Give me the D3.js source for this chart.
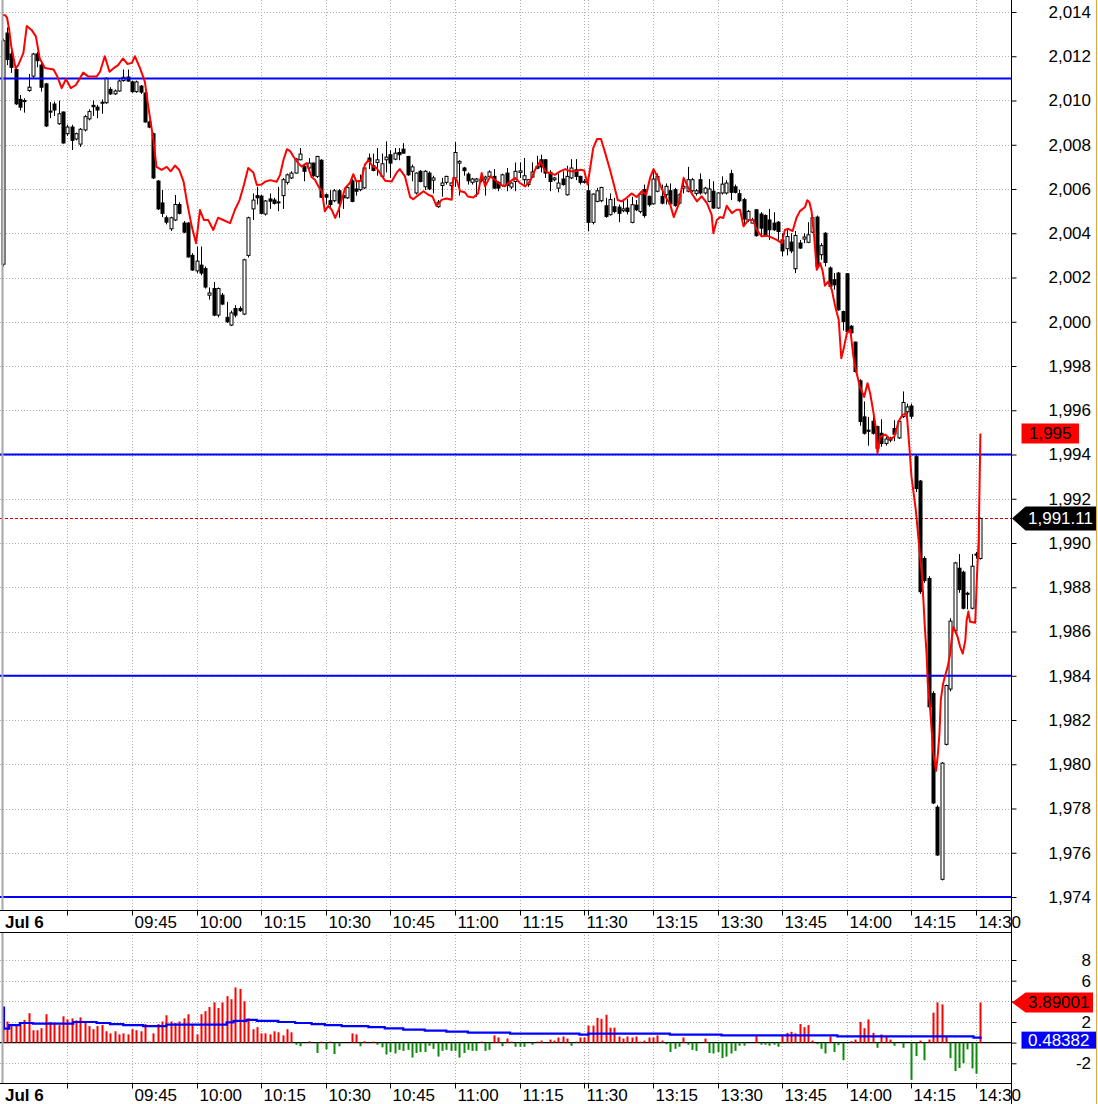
<!DOCTYPE html>
<html>
<head>
<meta charset="utf-8">
<script src="https://cdn.jsdelivr.net/npm/d3@7"></script>
<style>
  body { margin: 0; background: #fff; }
  svg { display: block; }
  text { font-family: "Liberation Sans", Arial, sans-serif; }
</style>
</head>
<body>
<script>
// one-minute candles, Jul 6: 09:15-11:30 then 13:00-14:31  [open, high, low, close]
const candles = [
  // 09:15
  [2002.6,2012.8,2002.5,2012.7],[2013.05,2013.3,2011.6,2011.85],[2012.1,2012.3,2011.25,2011.5],[2011.4,2011.5,2009.8,2009.85],
  [2010.05,2010.25,2009.55,2009.7],[2009.95,2010.1,2009.45,2010.0],[2010.45,2011.2,2010.4,2010.6],[2011.1,2012.15,2011.0,2012.1],
  [2012.1,2012.2,2011.5,2011.8],[2011.6,2011.7,2010.4,2010.6],[2010.75,2010.8,2008.8,2008.85],[2009.5,2009.93,2009.2,2009.52],
  [2009.84,2009.95,2009.3,2009.57],[2008.95,2010.0,2008.9,2009.4],[2009.48,2009.5,2008.05,2008.08],
  // 09:30
  [2008.5,2008.9,2008.4,2008.8],[2008.8,2008.9,2007.76,2008.2],[2008.26,2008.55,2008.2,2008.5],[2008.03,2008.75,2007.9,2008.7],
  [2008.67,2009.35,2008.6,2009.27],[2009.17,2009.6,2009.1,2009.5],[2009.78,2010.0,2009.3,2009.72],[2009.7,2009.8,2009.2,2009.57],
  [2009.88,2010.05,2009.4,2009.92],[2009.9,2011.05,2009.85,2011.0],[2010.5,2010.6,2010.25,2010.3],[2010.3,2010.5,2010.25,2010.43],
  [2010.43,2010.95,2010.4,2010.88],[2010.9,2011.4,2010.85,2011.05],[2011.06,2011.4,2010.85,2010.88],
  // 09:45
  [2010.84,2010.9,2010.35,2010.4],[2010.4,2010.9,2010.35,2010.84],[2010.65,2010.7,2010.3,2010.38],[2010.34,2010.4,2009.0,2009.03],
  [2009.03,2009.1,2008.75,2008.8],[2008.5,2008.55,2006.45,2006.5],[2006.36,2006.4,2005.05,2005.1],[2005.37,2005.95,2004.73,2004.9],
  [2004.7,2004.8,2004.4,2004.5],[2004.2,2004.75,2004.1,2004.7],[2004.6,2005.73,2004.55,2005.3],[2005.3,2005.4,2004.85,2004.9],
  [2004.46,2004.55,2004.0,2004.05],[2004.46,2004.5,2002.9,2002.93],[2003.0,2003.1,2002.3,2002.34],
  // 10:00
  [2002.3,2003.4,2002.2,2002.74],[2002.56,2003.4,2002.1,2002.2],[2002.4,2002.5,2001.5,2001.57],[2001.2,2001.55,2001.0,2001.3],
  [2001.5,2001.8,2000.25,2000.3],[2000.3,2001.55,2000.2,2001.5],[2001.2,2001.3,2000.75,2000.8],[2000.2,2000.9,1999.95,2000.0],
  [1999.85,2000.5,1999.8,2000.4],[2000.6,2000.75,2000.2,2000.3],[2000.6,2000.7,2000.45,2000.5],[2000.35,2002.85,2000.3,2002.8],
  [2003.0,2004.75,2002.9,2004.7],[2005.1,2005.8,2004.6,2005.5],[2005.7,2006.1,2005.3,2005.6],
  // 10:15
  [2005.68,2005.75,2004.85,2004.9],[2004.87,2005.5,2004.8,2005.46],[2005.55,2005.8,2005.1,2005.45],[2005.5,2005.6,2005.3,2005.35],
  [2005.4,2006.1,2005.0,2005.42],[2005.7,2006.5,2005.1,2006.42],[2006.3,2006.7,2006.2,2006.64],[2006.5,2006.8,2006.45,2006.72],
  [2006.72,2007.4,2006.7,2007.35],[2007.32,2007.85,2007.3,2007.58],[2007.02,2007.1,2006.35,2006.8],[2006.95,2007.4,2006.9,2007.17],
  [2007.17,2007.2,2006.55,2006.6],[2006.57,2007.5,2006.5,2007.47],[2007.3,2007.35,2005.6,2005.63],
  // 10:30
  [2005.74,2005.8,2005.3,2005.63],[2005.47,2005.95,2005.15,2005.3],[2005.47,2006.0,2005.4,2005.92],[2005.92,2006.0,2004.7,2005.36],
  [2005.7,2005.8,2005.1,2005.6],[2005.6,2006.15,2005.55,2006.07],[2006.37,2006.45,2005.4,2005.44],[2006.0,2006.4,2005.7,2005.9],
  [2005.97,2006.65,2005.9,2006.37],[2006.05,2007.0,2006.0,2006.95],[2007.4,2007.6,2006.9,2007.25],[2007.05,2007.6,2006.8,2006.84],
  [2007.2,2007.85,2006.6,2007.32],[2006.57,2007.6,2006.5,2007.14],[2007.32,2008.15,2006.75,2007.44],
  // 10:45
  [2007.55,2007.75,2006.5,2007.17],[2007.35,2007.85,2007.3,2007.62],[2007.65,2007.85,2007.3,2007.55],[2007.8,2008.07,2007.6,2007.62],
  [2007.47,2007.5,2006.6,2006.64],[2006.8,2007.1,2006.35,2007.0],[2005.82,2006.75,2005.75,2006.72],[2006.8,2006.85,2006.3,2006.34],
  [2006.1,2006.85,2005.95,2006.8],[2006.72,2006.8,2005.95,2006.0],[2006.4,2006.6,2005.8,2006.5],[2005.2,2005.5,2005.15,2005.4],
  [2006.16,2006.5,2005.65,2006.27],[2006.3,2006.6,2006.2,2006.57],[2006.15,2006.3,2005.65,2006.27],
  // 11:00
  [2006.5,2008.12,2006.1,2007.65],[2007.17,2007.3,2005.7,2007.25],[2006.95,2007.0,2006.6,2006.83],[2006.67,2006.75,2006.2,2006.37],
  [2006.3,2006.5,2006.2,2006.45],[2006.35,2006.5,2005.65,2006.45],[2006.45,2006.5,2006.3,2006.37],[2006.45,2006.6,2005.7,2006.54],
  [2006.57,2006.85,2006.5,2006.77],[2006.57,2006.9,2006.0,2006.04],[2006.3,2006.35,2005.9,2006.04],[2006.16,2006.7,2006.1,2006.64],
  [2006.72,2006.95,2005.9,2006.16],[2006.09,2006.3,2006.0,2006.27],[2006.34,2007.2,2005.9,2006.8],
  // 11:15
  [2006.75,2007.2,2006.5,2006.82],[2006.42,2007.4,2006.2,2006.6],[2006.2,2006.45,2006.1,2006.42],[2006.54,2007.2,2006.5,2006.77],
  [2007.02,2007.5,2006.9,2006.94],[2007.32,2007.55,2006.75,2007.0],[2007.32,2007.35,2006.5,2006.72],[2006.75,2006.85,2005.9,2006.34],
  [2006.42,2006.55,2006.35,2006.5],[2006.04,2006.7,2005.85,2006.27],[2006.45,2006.8,2006.15,2006.2],[2005.74,2007.05,2005.7,2006.57],
  [2006.5,2007.35,2006.45,2006.95],[2006.87,2007.35,2006.4,2006.57],[2006.57,2006.6,2006.2,2006.3],
  // 11:30
  [2006.3,2006.45,2006.25,2006.35],
  // 13:00
  [2005.92,2006.4,2004.1,2004.49],[2004.49,2005.8,2004.4,2005.77],[2005.44,2006.05,2005.4,2005.92],[2005.47,2006.1,2005.4,2006.07],
  [2005.24,2005.6,2004.7,2004.76],[2004.84,2005.8,2004.8,2005.52],[2005.2,2005.6,2004.9,2004.98],[2005.18,2005.3,2004.5,2004.9],
  [2005.02,2005.5,2004.95,2005.1],[2005.14,2005.55,2004.85,2004.98],[2004.49,2005.65,2004.45,2005.29],[2005.27,2005.5,2005.0,2005.06],
  [2004.98,2005.85,2004.9,2005.77],[2005.97,2006.2,2004.7,2004.8],[2005.67,2005.7,2005.2,2005.29],
  // 13:15
  [2005.33,2006.9,2005.3,2006.45],[2005.9,2006.7,2005.85,2006.57],[2005.67,2006.2,2005.3,2005.36],[2005.74,2006.25,2005.3,2006.12],
  [2005.92,2006.25,2005.3,2005.33],[2005.97,2006.05,2005.2,2005.25],[2005.36,2005.8,2005.3,2005.74],[2006.04,2006.55,2005.8,2006.12],
  [2005.9,2007.0,2005.85,2006.42],[2005.92,2006.5,2005.85,2006.42],[2005.8,2006.0,2005.7,2005.92],[2006.42,2006.7,2005.75,2005.82],
  [2005.82,2006.1,2005.75,2006.04],[2005.44,2006.45,2005.4,2006.0],[2005.9,2006.35,2005.1,2005.14],
  // 13:30
  [2005.14,2005.85,2005.1,2005.82],[2005.82,2006.57,2005.75,2006.22],[2005.82,2006.4,2005.75,2006.27],[2006.69,2006.87,2005.5,2005.85],
  [2006.1,2006.2,2005.8,2005.85],[2005.79,2005.97,2005.4,2005.47],[2005.52,2005.6,2004.4,2004.64],[2004.58,2005.05,2004.5,2004.99],
  [2004.46,2004.7,2004.45,2004.61],[2005.06,2005.1,2003.85,2003.89],[2004.87,2004.95,2003.85,2004.23],[2004.8,2004.85,2003.9,2003.93],
  [2004.6,2005.1,2003.7,2004.16],[2004.46,2004.95,2004.1,2004.16],[2004.5,2004.55,2003.7,2004.08],
  // 13:45
  [2003.7,2004.0,2002.95,2003.2],[2003.3,2004.2,2003.0,2003.85],[2003.6,2004.0,2003.1,2003.2],[2002.4,2004.1,2002.2,2003.9],
  [2003.56,2003.7,2003.3,2003.33],[2003.74,2004.0,2003.55,2003.83],[2003.59,2004.5,2003.55,2003.93],[2004.05,2004.75,2004.0,2004.7],
  [2004.73,2004.8,2002.45,2002.5],[2003.03,2003.55,2002.8,2003.44],[2004.0,2004.05,2002.5,2002.68],[2002.43,2002.5,2001.55,2001.6],
  [2001.9,2002.2,2001.45,2001.67],[2002.2,2002.25,2000.5,2000.54],[2000.46,2000.5,1999.6,2000.0],
  // 14:00
  [2002.17,2002.2,1999.5,1999.56],[1999.8,1999.85,1999.45,1999.5],[1999.08,1999.1,1997.7,1997.75],[1997.33,1997.4,1995.3,1995.49],
  [1995.7,1996.4,1994.9,1994.96],[1995.1,1995.7,1994.4,1995.05],[1995.5,1995.75,1994.9,1994.96],[1995.26,1995.3,1994.2,1994.28],
  [1994.96,1995.6,1994.35,1994.5],[1994.5,1994.8,1994.4,1994.7],[1994.7,1994.8,1994.55,1994.65],[1995.17,1995.55,1994.6,1994.92],
  [1994.75,1995.55,1994.7,1995.5],[1995.71,1996.85,1995.65,1996.35],[1995.93,1996.3,1995.8,1996.15],
  // 14:15
  [1996.19,1996.3,1995.6,1995.73],[1993.9,1994.0,1992.3,1992.46],[1992.8,1992.85,1987.7,1987.8],[1989.3,1989.4,1988.2,1988.3],
  [1988.4,1988.5,1982.5,1982.6],[1983.2,1983.3,1978.2,1978.25],[1978.06,1978.15,1975.85,1975.9],[1974.8,1980.1,1974.75,1980.05],
  [1980.9,1983.6,1980.85,1983.56],[1983.4,1986.6,1983.3,1986.47],[1986.03,1989.15,1985.9,1989.1],[1988.86,1989.5,1987.75,1987.9],
  [1988.68,1988.75,1987.0,1987.05],[1987.73,1987.8,1987.0,1987.68],[1987.05,1989.5,1987.0,1988.95],
  // 14:30
  [1989.5,1989.6,1989.3,1989.45],[1989.3,1991.15,1989.25,1991.11]
];

// red overlay line: [bar index, price]
const redLine = [
  [0,2013.86],[0.6,2013.85],[1,2013.75],[1.5,2013.2],[2,2012.43],[3,2011.45],[3.6,2011.6],[4.8,2012.14],[5.6,2013.37],
  [6.7,2013.19],[7.7,2012.9],[8.6,2011.9],[9.8,2011.47],[11.8,2011.4],[12.7,2011.08],[13.7,2010.56],[14.7,2010.97],
  [15.8,2010.56],[17,2010.7],[18.7,2011.26],[19.9,2011.08],[21.8,2011.08],[22.6,2011.3],[23.7,2012.0],[24.8,2011.3],
  [25.7,2011.45],[26.8,2011.6],[27.9,2011.9],[29,2011.65],[30,2011.7],[30.7,2012.0],[31.9,2011.45],[33,2010.85],
  [33.8,2009.72],[35,2008.2],[35.7,2007.0],[36.9,2006.86],[38.1,2007.0],[39,2006.8],[40,2007.06],[41,2006.86],
  [42,2006.33],[42.7,2005.5],[43.9,2004.3],[44.9,2003.55],[45.8,2005.05],[46.7,2004.6],[47.7,2004.6],[48.9,2004.15],
  [50,2004.7],[51.2,2004.6],[52.8,2004.46],[53.9,2005.05],[55,2005.5],[56,2006.18],[57,2006.95],[58.2,2006.75],
  [59,2006.18],[60.1,2006.2],[60.9,2006.33],[62.1,2006.4],[63.6,2006.33],[64.4,2006.64],[65.2,2007.32],[66,2007.8],
  [66.8,2007.7],[67.5,2007.47],[68.6,2007.17],[69.4,2007.02],[70.6,2007.17],[71.7,2006.54],[72.5,2006.42],[73.3,2006.12],
  [74.1,2005.9],[74.8,2004.99],[75.6,2005.24],[76.4,2005.06],[77.2,2004.69],[78,2005.06],[78.7,2005.51],[79.5,2006.04],
  [80.6,2006.27],[81.4,2006.67],[82.1,2006.34],[83.2,2006.37],[84.1,2007.1],[84.9,2007.3],[85.9,2007.02],[86.8,2006.95],
  [87.6,2006.72],[88.8,2006.37],[90.3,2006.34],[91.5,2006.75],[92.2,2006.9],[93.4,2006.57],[94.6,2005.63],[95.3,2005.54],
  [96.1,2005.66],[96.9,2005.78],[97.7,2005.9],[98.8,2005.74],[99.8,2005.66],[100.7,2005.24],[101.9,2005.51],[103,2005.57],
  [104.25,2005.51],[104.6,2006.5],[105.4,2006.42],[106.2,2005.9],[107.3,2005.85],[108,2005.66],[109.3,2005.62],
  [110.4,2005.81],[111.2,2006.72],[112,2006.12],[113.2,2006.57],[114.3,2006.42],[115.5,2006.2],[116.6,2006.12],
  [117.8,2006.34],[119,2006.5],[120.1,2006.27],[121.3,2006.12],[122.4,2006.34],[123.6,2006.87],[124.8,2007.25],
  [126,2006.8],[127,2006.72],[128.2,2006.64],[129.4,2006.8],[130.6,2006.9],[131.8,2006.8],[132.9,2006.8],[134.1,2006.87],
  [135,2006.84],[135.8,2006.2],[136.4,2006.95],[137.1,2007.85],[138,2008.26],[138.9,2008.26],[139.9,2007.62],[141,2006.87],
  [142,2006.12],[142.8,2005.5],[143.7,2005.44],[144.9,2005.6],[146,2005.8],[147.2,2005.64],[148.4,2005.9],[149.4,2005.74],
  [150.3,2006.5],[151.1,2006.9],[151.8,2006.64],[152.8,2006.12],[153.8,2005.67],[155,2005.29],[155.8,2004.73],
  [156.9,2005.29],[158.1,2006.5],[159.2,2006.04],[160.4,2005.67],[161.2,2005.44],[162.3,2005.67],[163.5,2005.36],
  [164.6,2004.84],[165,2004.0],[165.8,2004.6],[166.6,2004.73],[167.3,2004.69],[168.1,2005.24],[169.3,2004.91],
  [170.4,2005.06],[171.2,2005.06],[172,2004.31],[173.1,2004.6],[174.3,2004.6],[175,2004.16],[176.2,2003.86],
  [177.4,2003.89],[178.6,2003.8],[179.7,2003.7],[180.9,2003.55],[181.6,2004.15],[182.4,2004.2],[183.4,2004.1],
  [184.3,2004.7],[185.1,2005.0],[186.3,2005.19],[186.8,2005.49],[187.3,2005.4],[187.8,2004.99],[188.4,2003.86],
  [189,2002.35],[189.8,2002.65],[190.4,2002.27],[190.9,2001.63],[191.7,2001.82],[192.5,2001.44],[193.3,2000.69],
  [194.1,2000.09],[194.7,1998.35],[195.2,1998.73],[196,1999.48],[196.8,1999.64],[197.5,1998.43],[198.1,1997.82],
  [199,1997.07],[200,1996.6],[200.8,1997.22],[201.4,1996.77],[202.2,1995.86],[202.8,1995.11],[203.1,1994.06],
  [203.7,1994.8],[204.9,1994.9],[206,1994.7],[207,1994.8],[208,1995.49],[208.9,1995.79],[209.9,1995.86],[210.5,1994.36],
  [211,1993.0],[212,1991.5],[212.9,1989.6],[213.4,1988.6],[213.8,1987.3],[214.1,1986.2],[214.5,1985.0],[214.8,1983.6],
  [215.3,1982.6],[215.7,1981.5],[216.1,1980.45],[216.7,1979.7],[217.1,1980.4],[217.5,1981.4],[217.8,1982.9],
  [218.3,1983.6],[218.8,1984.0],[219.4,1984.4],[220,1985.0],[220.3,1985.6],[220.7,1986.2],[221.1,1986.06],
  [221.7,1985.76],[222.3,1985.3],[222.9,1985.0],[223.5,1985.6],[223.8,1986.5],[224.2,1986.9],[224.6,1986.44],
  [225.8,1986.4],[226.2,1988.5],[226.6,1990.15],[227,1994.95]
];

// lower panel histogram, one value per bar
const hist = [
  1.36,2.04,1.6,1.7,2.0,2.2,2.85,1.2,1.2,1.4,2.75,2.0,1.95,1.7,2.55,
  2.25,2.35,2.15,2.45,2.05,1.6,1.3,1.6,1.7,1.1,0.9,1.1,0.8,0.9,0.8,
  1.3,1.2,1.1,1.8,0.1,0.9,1.8,2.05,2.65,2.05,1.9,2.05,2.35,2.75,1.8,
  0.8,2.75,3.05,3.45,3.9,3.35,3.9,4.5,4.2,5.35,5.2,4.0,2.35,1.3,1.5,
  0.9,0.9,0.8,1.1,1.0,0.7,1.3,1.0,-0.2,-0.35,0,0.13,0,-1.0,0.1,
  -0.65,0.1,-1.1,-0.35,0,0,0.9,0.8,-0.35,0.13,0,0.1,-0.2,-0.45,-1.15,
  -0.9,-1.05,-0.7,-0.8,-0.7,-1.45,-1.0,-0.9,-0.9,-0.3,-0.6,-1.35,-0.8,-0.7,-0.8,
  -0.8,-1.45,-1.0,-0.7,-0.8,-0.8,0.1,-0.8,-0.7,0.7,0.5,-0.35,0.4,0.1,-0.4,
  -0.4,-0.4,0,-0.2,0.1,0.2,0,0.3,0.2,0.5,0.6,0.4,-0.3,0.1,0.5,
  0.5,1.65,1.65,2.4,2.3,2.7,1.45,1.45,0.6,0.4,0.6,0.5,0.6,0.1,0.2,
  0.5,0.5,0.7,0.2,-0.15,-0.9,-0.6,-0.4,0.5,-0.2,-0.7,-0.8,0,0.4,-1.0,
  -1.05,-0.9,-1.5,-1.35,-1.05,-0.8,-0.3,-0.3,0,0,0.65,-0.2,-0.2,-0.3,-0.2,
  -0.4,0.65,0.95,1.05,0.9,1.8,1.5,1.7,0.2,-0.15,-0.6,-1.05,0.6,-0.9,-0.25,
  -1.7,0,0.15,0.3,2.0,1.4,2.25,0.95,-0.5,0.8,0.65,0.3,-0.3,0,-0.5,
  0,-3.6,-1.3,0.2,-1.7,0.3,2.9,3.9,3.7,0.6,-1.5,-2.75,-2.45,-2.0,-0.65,
  -2.5,-3.0,3.89001
];

// lower panel blue signal line, stepped: [bar index, value]
const signal = [
  [0,3.4],[0.3,1.36],[1.5,1.7],[4,1.9],[7,1.85],[16.4,2.0],[21.8,1.9],[24.9,1.8],[28,1.7],[32.6,1.6],
  [38,1.75],[52,1.97],[53.6,2.1],[56.6,2.2],[59,2.1],[64,2.0],[67.9,1.9],[71.7,1.8],[74.8,1.7],[78.7,1.6],
  [84.9,1.5],[88.7,1.38],[93,1.26],[98,1.17],[103,1.07],[108,0.97],[117.8,0.87],[133.9,0.78],[136,0.87],
  [154.9,0.78],[166.9,0.7],[193.8,0.6],[225.4,0.48382],[227.3,0.48382]
];

const levels = [2011, 1994, 1984, 1974];
const priceTicks = d3.range(1974, 2015, 2);
const lowTicks = [8, 6, 4, 2, 0, -2];
const lowLabels = ["8", "6", "", "2", "", "-2"];   // 4 and 0 sit under the value tags
const timeIdx = [15, 30, 45, 60, 75, 90, 105, 120, 135, 136, 151, 166, 181, 196, 211, 226];
const timeLabels = ["", "09:45", "10:00", "10:15", "10:30", "10:45", "11:00", "11:15", "11:30", "", "13:15", "13:30", "13:45", "14:00", "14:15", "14:30"];
const lastPrice = 1991.11;

const width = 1098, height = 1104;
const axisX = 1011.5;
const mainBottom = 910, bandBottom = 932, lowBottom = 1083;
const font = "17px";

const svg = d3.select("body").append("svg")
  .attr("width", width).attr("height", height)
  .attr("viewBox", [0, 0, width, height]);

svg.append("rect").attr("width", width).attr("height", height).attr("fill", "#fff");

// scales
const x = d3.scaleLinear().domain([0, 227]).range([2.7, 980.4]);
const y = d3.scaleLinear().domain([1974, 2014]).range([897, 12]);
const yl = d3.scaleLinear().domain([-2, 8]).range([1063.3, 960]);
const px = i => Math.round(x(i)) + 0.5;

const defs = svg.append("defs");
defs.append("clipPath").attr("id", "clipMain")
  .append("rect").attr("x", 0).attr("y", 0).attr("width", axisX).attr("height", mainBottom);
defs.append("clipPath").attr("id", "clipLow")
  .append("rect").attr("x", 0).attr("y", bandBottom).attr("width", axisX).attr("height", lowBottom - bandBottom);

const gMain = svg.append("g").attr("clip-path", "url(#clipMain)");
const gLow = svg.append("g").attr("clip-path", "url(#clipLow)");

// gridlines
const gridColor = "#b0b0b0";
gMain.selectAll(".hgrid").data(priceTicks).join("line")
  .attr("x1", 0).attr("x2", axisX)
  .attr("y1", d => Math.round(y(d)) + 0.5).attr("y2", d => Math.round(y(d)) + 0.5)
  .attr("stroke", gridColor).attr("stroke-dasharray", "1,2");
gMain.selectAll(".vgrid").data(timeIdx).join("line")
  .attr("x1", d => px(d)).attr("x2", d => px(d))
  .attr("y1", 0).attr("y2", mainBottom)
  .attr("stroke", gridColor).attr("stroke-dasharray", "1,2");
gLow.selectAll(".hgrid").data(lowTicks.filter(d => d !== 0)).join("line")
  .attr("x1", 0).attr("x2", axisX)
  .attr("y1", d => Math.round(yl(d)) + 0.5).attr("y2", d => Math.round(yl(d)) + 0.5)
  .attr("stroke", gridColor).attr("stroke-dasharray", "1,2");
gLow.selectAll(".vgrid").data(timeIdx).join("line")
  .attr("x1", d => px(d)).attr("x2", d => px(d))
  .attr("y1", bandBottom).attr("y2", lowBottom)
  .attr("stroke", gridColor).attr("stroke-dasharray", "1,2");

// last price dashed line
gMain.append("line")
  .attr("x1", 0).attr("x2", axisX)
  .attr("y1", Math.round(y(lastPrice)) + 0.5).attr("y2", Math.round(y(lastPrice)) + 0.5)
  .attr("stroke", "#d00000").attr("stroke-dasharray", "3,2");

// candles
const cg = gMain.append("g");
candles.forEach(([o, h, l, c], i) => {
  const cx = px(i);
  cg.append("line")
    .attr("x1", cx).attr("x2", cx)
    .attr("y1", y(h)).attr("y2", y(l))
    .attr("stroke", "#000").attr("stroke-width", 1);
  const top = y(Math.max(o, c)), bot = y(Math.min(o, c));
  cg.append("rect")
    .attr("x", cx - 1.5).attr("y", top)
    .attr("width", 3).attr("height", Math.max(bot - top, 1))
    .attr("fill", c >= o ? "#fff" : "#000")
    .attr("stroke", "#000").attr("stroke-width", 1);
});

// horizontal levels
gMain.selectAll(".level").data(levels).join("line")
  .attr("x1", 0).attr("x2", axisX)
  .attr("y1", d => y(d)).attr("y2", d => y(d))
  .attr("stroke", "#0000ff").attr("stroke-width", 2);

// red overlay line
gMain.append("path")
  .datum(redLine)
  .attr("fill", "none").attr("stroke", "#ff0000").attr("stroke-width", 2)
  .attr("stroke-linejoin", "round")
  .attr("d", d3.line().x(d => x(d[0])).y(d => y(d[1])));

// lower panel: zero line, histogram, signal
gLow.append("line")
  .attr("x1", 0).attr("x2", axisX)
  .attr("y1", yl(0)).attr("y2", yl(0))
  .attr("stroke", "#000").attr("stroke-width", 1.3);

gLow.selectAll(".bar").data(hist.map((v, i) => ({ v, i })).filter(d => d.v !== 0)).join("rect")
  .attr("x", d => Math.round(x(d.i)) - 0.5)
  .attr("width", 2)
  .attr("y", d => Math.min(yl(0), yl(d.v)))
  .attr("height", d => Math.abs(yl(d.v) - yl(0)))
  .attr("fill", d => d.v > 0 ? "#ff0000" : "#0a8c0a");

gLow.append("path")
  .datum(signal)
  .attr("fill", "none").attr("stroke", "#0000ff").attr("stroke-width", 2.2)
  .attr("d", d3.line().curve(d3.curveStepAfter).x(d => x(d[0])).y(d => yl(d[1])));

// session start line
[[0, mainBottom], [bandBottom, lowBottom]].forEach(([a, b]) => {
  svg.append("line")
    .attr("x1", 2.5).attr("x2", 2.5).attr("y1", a).attr("y2", b)
    .attr("stroke", "#a8a8a8").attr("stroke-width", 2);
});

// frame lines
[mainBottom, bandBottom, lowBottom].forEach(v => {
  svg.append("line")
    .attr("x1", 0).attr("x2", axisX)
    .attr("y1", v + 0.5).attr("y2", v + 0.5)
    .attr("stroke", "#000");
});
svg.append("line")
  .attr("x1", axisX).attr("x2", axisX).attr("y1", 0).attr("y2", height)
  .attr("stroke", "#000");
svg.append("line")
  .attr("x1", 1096.5).attr("x2", 1096.5).attr("y1", 0).attr("y2", height)
  .attr("stroke", "#f0a040");

// right price axis
const fmt = d3.format(",");
const yAxis = svg.append("g")
  .attr("transform", `translate(${axisX},0)`)
  .call(d3.axisRight(y).tickValues(priceTicks).tickFormat(fmt).tickSize(5).tickSizeOuter(0));
yAxis.select(".domain").remove();
yAxis.selectAll("text")
  .attr("x", 1091 - axisX).attr("text-anchor", "end")
  .attr("font-size", font).attr("font-family", "Liberation Sans, Arial, sans-serif").attr("fill", "#000");

const lAxis = svg.append("g")
  .attr("transform", `translate(${axisX},0)`)
  .call(d3.axisRight(yl).tickValues(lowTicks).tickFormat((d, i) => lowLabels[i]).tickSize(5).tickSizeOuter(0));
lAxis.select(".domain").remove();
lAxis.selectAll("text")
  .attr("x", 1091 - axisX).attr("text-anchor", "end")
  .attr("font-size", font).attr("font-family", "Liberation Sans, Arial, sans-serif").attr("fill", "#000");

// time axes (under both panels)
[mainBottom, lowBottom].forEach(v => {
  const ax = svg.append("g")
    .attr("transform", `translate(0,${v + 0.5})`)
    .call(d3.axisBottom(x).tickValues(timeIdx).tickFormat((d, i) => timeLabels[i]).tickSize(5).tickSizeOuter(0));
  ax.select(".domain").remove();
  ax.selectAll(".tick").attr("transform", d => `translate(${px(d)},0)`);
  ax.selectAll("text")
    .attr("x", 2).attr("y", 17).attr("dy", 0).attr("text-anchor", "start")
    .attr("font-size", font).attr("font-family", "Liberation Sans, Arial, sans-serif").attr("fill", "#000");
  svg.append("text")
    .attr("x", 5).attr("y", v + 17.5)
    .attr("font-size", font).attr("font-weight", "bold").text("Jul 6");
});

// value tags
function tag(yc, label, fill, color, arrow, right, h) {
  const g = svg.append("g");
  const x0 = arrow ? 1025.5 : 1021.5;
  if (arrow) {
    g.append("path")
      .attr("d", `M${axisX + 0.5},${yc} L${x0},${yc - h / 2} L${right},${yc - h / 2} L${right},${yc + h / 2} L${x0},${yc + h / 2} Z`)
      .attr("fill", fill);
  } else {
    g.append("rect").attr("x", x0).attr("y", yc - h / 2).attr("width", right - x0).attr("height", h).attr("fill", fill);
  }
  g.append("text")
    .attr("x", arrow ? 1028 : (x0 + right) / 2)
    .attr("y", yc + 6)
    .attr("text-anchor", arrow ? "start" : "middle")
    .attr("font-size", font).attr("fill", color).text(label);
}
const redLast = redLine[redLine.length - 1][1];
tag(y(redLast), fmt(Math.round(redLast)), "#ff0000", "#000", false, 1079, 20);
tag(y(lastPrice), d3.format(",.2f")(lastPrice), "#000", "#fff", true, 1096, 24);
tag(yl(hist[hist.length - 1]), hist[hist.length - 1].toFixed(5), "#ff0000", "#000", true, 1093, 20);
tag(yl(signal[signal.length - 1][1]) + 2.5, signal[signal.length - 1][1].toFixed(5), "#0000ff", "#fff", false, 1096, 17);
</script>
</body>
</html>
